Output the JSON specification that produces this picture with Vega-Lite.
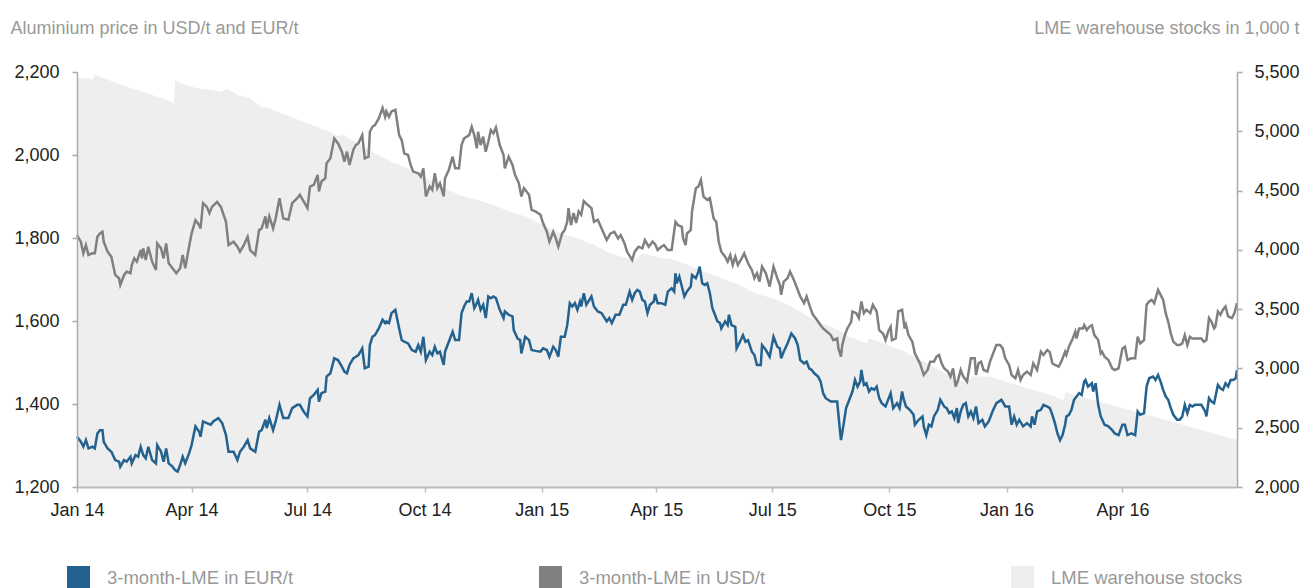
{
  "$schema": "https://vega.github.io/schema/vega-lite/v6.json",
  "width": 1160,
  "height": 415,
  "autosize": {"type": "none"},
  "padding": {"left": 77, "top": 72, "right": 66, "bottom": 101},
  "background": "white",
  "config": {"view": {"stroke": null}, "font": "Liberation Sans"},
  "datasets": {
    "usd": [
      {"date":"2014-01-01","value":1807},{"date":"2014-01-04","value":1791},{"date":"2014-01-06","value":1763},{"date":"2014-01-08","value":1783},{"date":"2014-01-10","value":1759},{"date":"2014-01-13","value":1763},{"date":"2014-01-15","value":1763},{"date":"2014-01-17","value":1803},{"date":"2014-01-19","value":1811},{"date":"2014-01-21","value":1815},{"date":"2014-01-22","value":1791},{"date":"2014-01-25","value":1767},{"date":"2014-01-28","value":1755},{"date":"2014-01-31","value":1711},
      {"date":"2014-02-03","value":1703},{"date":"2014-02-04","value":1687},{"date":"2014-02-07","value":1711},{"date":"2014-02-09","value":1719},{"date":"2014-02-12","value":1715},{"date":"2014-02-13","value":1735},{"date":"2014-02-15","value":1751},{"date":"2014-02-17","value":1743},{"date":"2014-02-20","value":1771},{"date":"2014-02-21","value":1751},{"date":"2014-02-22","value":1775},{"date":"2014-02-24","value":1747},{"date":"2014-02-26","value":1779},
      {"date":"2014-03-01","value":1743},{"date":"2014-03-04","value":1723},{"date":"2014-03-05","value":1787},{"date":"2014-03-08","value":1775},{"date":"2014-03-10","value":1751},{"date":"2014-03-12","value":1787},{"date":"2014-03-14","value":1739},{"date":"2014-03-17","value":1727},{"date":"2014-03-20","value":1715},{"date":"2014-03-23","value":1727},{"date":"2014-03-25","value":1759},{"date":"2014-03-27","value":1727},{"date":"2014-03-30","value":1779},
      {"date":"2014-04-01","value":1811},{"date":"2014-04-04","value":1843},{"date":"2014-04-07","value":1831},{"date":"2014-04-08","value":1823},{"date":"2014-04-10","value":1884},{"date":"2014-04-13","value":1875},{"date":"2014-04-15","value":1860},{"date":"2014-04-17","value":1875},{"date":"2014-04-21","value":1887},{"date":"2014-04-24","value":1875},{"date":"2014-04-28","value":1839},{"date":"2014-04-30","value":1783},
      {"date":"2014-05-04","value":1791},{"date":"2014-05-07","value":1779},{"date":"2014-05-09","value":1767},{"date":"2014-05-12","value":1783},{"date":"2014-05-15","value":1803},{"date":"2014-05-17","value":1771},{"date":"2014-05-21","value":1759},{"date":"2014-05-24","value":1819},{"date":"2014-05-26","value":1823},{"date":"2014-05-29","value":1852},{"date":"2014-05-30","value":1823},
      {"date":"2014-06-01","value":1852},{"date":"2014-06-04","value":1823},{"date":"2014-06-06","value":1847},{"date":"2014-06-09","value":1896},{"date":"2014-06-12","value":1847},{"date":"2014-06-16","value":1844},{"date":"2014-06-19","value":1884},{"date":"2014-06-23","value":1896},{"date":"2014-06-25","value":1904},{"date":"2014-06-28","value":1888},
      {"date":"2014-07-01","value":1872},{"date":"2014-07-03","value":1924},{"date":"2014-07-06","value":1928},{"date":"2014-07-09","value":1952},{"date":"2014-07-10","value":1912},{"date":"2014-07-12","value":1936},{"date":"2014-07-15","value":1944},{"date":"2014-07-16","value":1980},{"date":"2014-07-19","value":1992},{"date":"2014-07-22","value":2040},{"date":"2014-07-25","value":2028},{"date":"2014-07-28","value":2008},{"date":"2014-07-30","value":1984},
      {"date":"2014-08-01","value":2008},{"date":"2014-08-03","value":1976},{"date":"2014-08-06","value":2012},{"date":"2014-08-08","value":2024},{"date":"2014-08-10","value":2028},{"date":"2014-08-13","value":2048},{"date":"2014-08-15","value":1992},{"date":"2014-08-18","value":1996},{"date":"2014-08-19","value":2056},{"date":"2014-08-21","value":2068},{"date":"2014-08-23","value":2072},{"date":"2014-08-26","value":2088},{"date":"2014-08-29","value":2113},{"date":"2014-08-31","value":2092},
      {"date":"2014-09-01","value":2105},{"date":"2014-09-03","value":2092},{"date":"2014-09-05","value":2105},{"date":"2014-09-08","value":2109},{"date":"2014-09-11","value":2048},{"date":"2014-09-13","value":2036},{"date":"2014-09-15","value":2004},{"date":"2014-09-18","value":2000},{"date":"2014-09-20","value":1976},{"date":"2014-09-22","value":1960},{"date":"2014-09-26","value":1956},{"date":"2014-09-28","value":1948},{"date":"2014-09-30","value":1968},
      {"date":"2014-10-02","value":1900},{"date":"2014-10-05","value":1924},{"date":"2014-10-07","value":1916},{"date":"2014-10-09","value":1956},{"date":"2014-10-11","value":1920},{"date":"2014-10-13","value":1932},{"date":"2014-10-16","value":1900},{"date":"2014-10-17","value":1944},{"date":"2014-10-20","value":1964},{"date":"2014-10-23","value":1996},{"date":"2014-10-25","value":1968},{"date":"2014-10-28","value":1968},{"date":"2014-10-30","value":2024},
      {"date":"2014-11-01","value":2040},{"date":"2014-11-03","value":2044},{"date":"2014-11-05","value":2048},{"date":"2014-11-07","value":2068},{"date":"2014-11-09","value":2048},{"date":"2014-11-11","value":2016},{"date":"2014-11-12","value":2056},{"date":"2014-11-14","value":2024},{"date":"2014-11-16","value":2044},{"date":"2014-11-18","value":2008},{"date":"2014-11-20","value":2032},{"date":"2014-11-22","value":2060},{"date":"2014-11-24","value":2052},{"date":"2014-11-26","value":2066},{"date":"2014-11-29","value":2024},
      {"date":"2014-12-02","value":2000},{"date":"2014-12-03","value":1968},{"date":"2014-12-06","value":1996},{"date":"2014-12-09","value":1976},{"date":"2014-12-11","value":1952},{"date":"2014-12-14","value":1932},{"date":"2014-12-16","value":1900},{"date":"2014-12-18","value":1920},{"date":"2014-12-22","value":1904},{"date":"2014-12-24","value":1868},{"date":"2014-12-27","value":1864},{"date":"2014-12-31","value":1856},
      {"date":"2015-01-02","value":1836},{"date":"2015-01-05","value":1815},{"date":"2015-01-07","value":1791},{"date":"2015-01-10","value":1815},{"date":"2015-01-12","value":1799},{"date":"2015-01-14","value":1779},{"date":"2015-01-17","value":1811},{"date":"2015-01-19","value":1819},{"date":"2015-01-21","value":1839},{"date":"2015-01-22","value":1872},{"date":"2015-01-24","value":1831},{"date":"2015-01-26","value":1860},{"date":"2015-01-28","value":1836},{"date":"2015-01-30","value":1864},
      {"date":"2015-02-01","value":1856},{"date":"2015-02-03","value":1889},{"date":"2015-02-06","value":1880},{"date":"2015-02-09","value":1872},{"date":"2015-02-11","value":1839},{"date":"2015-02-14","value":1844},{"date":"2015-02-17","value":1823},{"date":"2015-02-21","value":1795},{"date":"2015-02-24","value":1811},{"date":"2015-02-27","value":1815},
      {"date":"2015-03-02","value":1799},{"date":"2015-03-04","value":1807},{"date":"2015-03-07","value":1787},{"date":"2015-03-09","value":1767},{"date":"2015-03-13","value":1747},{"date":"2015-03-15","value":1767},{"date":"2015-03-18","value":1779},{"date":"2015-03-21","value":1775},{"date":"2015-03-23","value":1795},{"date":"2015-03-26","value":1779},{"date":"2015-03-29","value":1791},{"date":"2015-03-31","value":1785},
      {"date":"2015-04-02","value":1771},{"date":"2015-04-05","value":1779},{"date":"2015-04-07","value":1783},{"date":"2015-04-10","value":1771},{"date":"2015-04-13","value":1771},{"date":"2015-04-16","value":1839},{"date":"2015-04-18","value":1831},{"date":"2015-04-21","value":1827},{"date":"2015-04-22","value":1799},{"date":"2015-04-24","value":1783},{"date":"2015-04-25","value":1811},{"date":"2015-04-28","value":1819},{"date":"2015-04-29","value":1864},
      {"date":"2015-05-02","value":1920},{"date":"2015-05-04","value":1924},{"date":"2015-05-06","value":1940},{"date":"2015-05-08","value":1900},{"date":"2015-05-11","value":1892},{"date":"2015-05-13","value":1896},{"date":"2015-05-16","value":1847},{"date":"2015-05-18","value":1839},{"date":"2015-05-20","value":1791},{"date":"2015-05-22","value":1767},{"date":"2015-05-25","value":1755},{"date":"2015-05-27","value":1743},{"date":"2015-05-29","value":1759},{"date":"2015-05-31","value":1735},
      {"date":"2015-06-02","value":1755},{"date":"2015-06-04","value":1735},{"date":"2015-06-07","value":1751},{"date":"2015-06-09","value":1763},{"date":"2015-06-12","value":1739},{"date":"2015-06-15","value":1723},{"date":"2015-06-17","value":1703},{"date":"2015-06-19","value":1715},{"date":"2015-06-21","value":1695},{"date":"2015-06-23","value":1731},{"date":"2015-06-26","value":1715},{"date":"2015-06-29","value":1683},
      {"date":"2015-07-02","value":1731},{"date":"2015-07-05","value":1703},{"date":"2015-07-07","value":1687},{"date":"2015-07-08","value":1663},{"date":"2015-07-10","value":1695},{"date":"2015-07-13","value":1703},{"date":"2015-07-15","value":1719},{"date":"2015-07-18","value":1699},{"date":"2015-07-20","value":1683},{"date":"2015-07-23","value":1659},{"date":"2015-07-26","value":1643},{"date":"2015-07-28","value":1659},{"date":"2015-07-31","value":1631},
      {"date":"2015-08-02","value":1615},{"date":"2015-08-05","value":1603},{"date":"2015-08-08","value":1590},{"date":"2015-08-10","value":1582},{"date":"2015-08-13","value":1574},{"date":"2015-08-16","value":1566},{"date":"2015-08-18","value":1554},{"date":"2015-08-21","value":1558},{"date":"2015-08-22","value":1534},{"date":"2015-08-24","value":1514},{"date":"2015-08-25","value":1542},{"date":"2015-08-27","value":1566},{"date":"2015-08-29","value":1582},
      {"date":"2015-09-01","value":1598},{"date":"2015-09-02","value":1623},{"date":"2015-09-05","value":1619},{"date":"2015-09-07","value":1607},{"date":"2015-09-09","value":1647},{"date":"2015-09-11","value":1619},{"date":"2015-09-13","value":1627},{"date":"2015-09-16","value":1619},{"date":"2015-09-18","value":1639},{"date":"2015-09-21","value":1623},{"date":"2015-09-23","value":1578},{"date":"2015-09-26","value":1570},{"date":"2015-09-28","value":1554},{"date":"2015-09-30","value":1574},
      {"date":"2015-10-02","value":1586},{"date":"2015-10-03","value":1554},{"date":"2015-10-06","value":1558},{"date":"2015-10-08","value":1623},{"date":"2015-10-11","value":1627},{"date":"2015-10-13","value":1582},{"date":"2015-10-14","value":1591},{"date":"2015-10-16","value":1566},{"date":"2015-10-19","value":1550},{"date":"2015-10-21","value":1522},{"date":"2015-10-23","value":1510},{"date":"2015-10-25","value":1498},{"date":"2015-10-28","value":1470},{"date":"2015-10-31","value":1482},
      {"date":"2015-11-02","value":1502},{"date":"2015-11-05","value":1502},{"date":"2015-11-07","value":1514},{"date":"2015-11-09","value":1518},{"date":"2015-11-11","value":1498},{"date":"2015-11-13","value":1486},{"date":"2015-11-16","value":1478},{"date":"2015-11-18","value":1466},{"date":"2015-11-20","value":1486},{"date":"2015-11-22","value":1442},{"date":"2015-11-24","value":1458},{"date":"2015-11-26","value":1482},{"date":"2015-11-28","value":1466},
      {"date":"2015-12-01","value":1454},{"date":"2015-12-04","value":1510},{"date":"2015-12-07","value":1510},{"date":"2015-12-08","value":1470},{"date":"2015-12-10","value":1498},{"date":"2015-12-12","value":1502},{"date":"2015-12-14","value":1482},{"date":"2015-12-17","value":1478},{"date":"2015-12-19","value":1502},{"date":"2015-12-21","value":1518},{"date":"2015-12-24","value":1542},{"date":"2015-12-27","value":1542},{"date":"2015-12-29","value":1534},{"date":"2015-12-31","value":1510},
      {"date":"2016-01-03","value":1494},{"date":"2016-01-05","value":1470},{"date":"2016-01-08","value":1462},{"date":"2016-01-10","value":1482},{"date":"2016-01-12","value":1458},{"date":"2016-01-14","value":1470},{"date":"2016-01-17","value":1478},{"date":"2016-01-20","value":1470},{"date":"2016-01-22","value":1498},{"date":"2016-01-25","value":1482},{"date":"2016-01-28","value":1526},{"date":"2016-01-30","value":1518},
      {"date":"2016-02-02","value":1530},{"date":"2016-02-04","value":1525},{"date":"2016-02-06","value":1498},{"date":"2016-02-08","value":1494},{"date":"2016-02-11","value":1490},{"date":"2016-02-13","value":1502},{"date":"2016-02-16","value":1526},{"date":"2016-02-17","value":1518},{"date":"2016-02-19","value":1538},{"date":"2016-02-22","value":1558},{"date":"2016-02-24","value":1574},{"date":"2016-02-25","value":1558},{"date":"2016-02-27","value":1582},
      {"date":"2016-03-01","value":1582},{"date":"2016-03-02","value":1590},{"date":"2016-03-04","value":1578},{"date":"2016-03-06","value":1586},{"date":"2016-03-08","value":1590},{"date":"2016-03-10","value":1566},{"date":"2016-03-13","value":1554},{"date":"2016-03-15","value":1522},{"date":"2016-03-16","value":1526},{"date":"2016-03-18","value":1514},{"date":"2016-03-21","value":1506},{"date":"2016-03-24","value":1486},{"date":"2016-03-26","value":1482},{"date":"2016-03-29","value":1486},
      {"date":"2016-04-01","value":1534},{"date":"2016-04-03","value":1538},{"date":"2016-04-05","value":1506},{"date":"2016-04-08","value":1510},{"date":"2016-04-11","value":1510},{"date":"2016-04-13","value":1562},{"date":"2016-04-15","value":1546},{"date":"2016-04-18","value":1554},{"date":"2016-04-20","value":1639},{"date":"2016-04-22","value":1647},{"date":"2016-04-24","value":1651},{"date":"2016-04-26","value":1643},{"date":"2016-04-29","value":1675},
      {"date":"2016-05-01","value":1663},{"date":"2016-05-03","value":1651},{"date":"2016-05-05","value":1619},{"date":"2016-05-07","value":1598},{"date":"2016-05-09","value":1570},{"date":"2016-05-11","value":1550},{"date":"2016-05-14","value":1542},{"date":"2016-05-16","value":1542},{"date":"2016-05-18","value":1546},{"date":"2016-05-20","value":1566},{"date":"2016-05-22","value":1542},{"date":"2016-05-24","value":1562},{"date":"2016-05-26","value":1558},{"date":"2016-05-28","value":1558},{"date":"2016-05-31","value":1558},
      {"date":"2016-06-02","value":1558},{"date":"2016-06-04","value":1550},{"date":"2016-06-06","value":1554},{"date":"2016-06-08","value":1607},{"date":"2016-06-10","value":1598},{"date":"2016-06-12","value":1582},{"date":"2016-06-13","value":1586},{"date":"2016-06-15","value":1623},{"date":"2016-06-17","value":1615},{"date":"2016-06-19","value":1627},{"date":"2016-06-21","value":1635},{"date":"2016-06-23","value":1611},{"date":"2016-06-26","value":1607},{"date":"2016-06-28","value":1619},{"date":"2016-06-30","value":1643}
    ],
    "eur": [
      {"date":"2014-01-01","value":1321},{"date":"2014-01-04","value":1309},{"date":"2014-01-06","value":1297},{"date":"2014-01-08","value":1313},{"date":"2014-01-10","value":1293},{"date":"2014-01-13","value":1297},{"date":"2014-01-15","value":1293},{"date":"2014-01-17","value":1329},{"date":"2014-01-19","value":1337},{"date":"2014-01-21","value":1337},{"date":"2014-01-22","value":1309},{"date":"2014-01-25","value":1293},{"date":"2014-01-28","value":1285},{"date":"2014-01-31","value":1265},
      {"date":"2014-02-03","value":1261},{"date":"2014-02-04","value":1249},{"date":"2014-02-07","value":1265},{"date":"2014-02-09","value":1261},{"date":"2014-02-12","value":1273},{"date":"2014-02-13","value":1257},{"date":"2014-02-16","value":1277},{"date":"2014-02-18","value":1273},{"date":"2014-02-20","value":1297},{"date":"2014-02-22","value":1277},{"date":"2014-02-24","value":1269},{"date":"2014-02-26","value":1297},
      {"date":"2014-03-01","value":1265},{"date":"2014-03-04","value":1257},{"date":"2014-03-05","value":1301},{"date":"2014-03-08","value":1285},{"date":"2014-03-10","value":1261},{"date":"2014-03-12","value":1293},{"date":"2014-03-14","value":1257},{"date":"2014-03-17","value":1249},{"date":"2014-03-19","value":1241},{"date":"2014-03-21","value":1237},{"date":"2014-03-23","value":1253},{"date":"2014-03-25","value":1273},{"date":"2014-03-27","value":1257},{"date":"2014-03-30","value":1281},
      {"date":"2014-04-01","value":1301},{"date":"2014-04-04","value":1346},{"date":"2014-04-07","value":1333},{"date":"2014-04-08","value":1321},{"date":"2014-04-10","value":1358},{"date":"2014-04-13","value":1354},{"date":"2014-04-16","value":1350},{"date":"2014-04-18","value":1358},{"date":"2014-04-22","value":1366},{"date":"2014-04-25","value":1354},{"date":"2014-04-28","value":1325},{"date":"2014-04-30","value":1285},
      {"date":"2014-05-04","value":1285},{"date":"2014-05-07","value":1265},{"date":"2014-05-09","value":1285},{"date":"2014-05-12","value":1297},{"date":"2014-05-15","value":1313},{"date":"2014-05-17","value":1293},{"date":"2014-05-21","value":1285},{"date":"2014-05-24","value":1333},{"date":"2014-05-26","value":1337},{"date":"2014-05-29","value":1362},{"date":"2014-05-30","value":1342},
      {"date":"2014-06-01","value":1366},{"date":"2014-06-04","value":1337},{"date":"2014-06-06","value":1358},{"date":"2014-06-09","value":1398},{"date":"2014-06-12","value":1366},{"date":"2014-06-16","value":1366},{"date":"2014-06-19","value":1390},{"date":"2014-06-23","value":1398},{"date":"2014-06-25","value":1398},{"date":"2014-06-28","value":1382},
      {"date":"2014-07-01","value":1370},{"date":"2014-07-03","value":1414},{"date":"2014-07-06","value":1422},{"date":"2014-07-09","value":1434},{"date":"2014-07-10","value":1406},{"date":"2014-07-12","value":1426},{"date":"2014-07-15","value":1430},{"date":"2014-07-16","value":1466},{"date":"2014-07-19","value":1474},{"date":"2014-07-22","value":1510},{"date":"2014-07-25","value":1506},{"date":"2014-07-28","value":1490},{"date":"2014-07-30","value":1478},
      {"date":"2014-08-01","value":1474},{"date":"2014-08-03","value":1494},{"date":"2014-08-06","value":1510},{"date":"2014-08-08","value":1514},{"date":"2014-08-10","value":1518},{"date":"2014-08-13","value":1534},{"date":"2014-08-15","value":1486},{"date":"2014-08-18","value":1490},{"date":"2014-08-19","value":1542},{"date":"2014-08-21","value":1562},{"date":"2014-08-23","value":1566},{"date":"2014-08-26","value":1582},{"date":"2014-08-29","value":1603},{"date":"2014-08-31","value":1595},
      {"date":"2014-09-01","value":1599},{"date":"2014-09-03","value":1595},{"date":"2014-09-05","value":1619},{"date":"2014-09-08","value":1627},{"date":"2014-09-11","value":1582},{"date":"2014-09-13","value":1554},{"date":"2014-09-15","value":1550},{"date":"2014-09-18","value":1546},{"date":"2014-09-21","value":1530},{"date":"2014-09-24","value":1526},{"date":"2014-09-26","value":1542},{"date":"2014-09-28","value":1526},{"date":"2014-09-30","value":1562},
      {"date":"2014-10-02","value":1506},{"date":"2014-10-05","value":1526},{"date":"2014-10-07","value":1518},{"date":"2014-10-09","value":1538},{"date":"2014-10-11","value":1522},{"date":"2014-10-13","value":1526},{"date":"2014-10-16","value":1494},{"date":"2014-10-17","value":1526},{"date":"2014-10-20","value":1550},{"date":"2014-10-23","value":1574},{"date":"2014-10-25","value":1554},{"date":"2014-10-28","value":1554},{"date":"2014-10-30","value":1619},
      {"date":"2014-11-01","value":1635},{"date":"2014-11-03","value":1647},{"date":"2014-11-05","value":1647},{"date":"2014-11-07","value":1667},{"date":"2014-11-09","value":1631},{"date":"2014-11-11","value":1643},{"date":"2014-11-12","value":1651},{"date":"2014-11-14","value":1627},{"date":"2014-11-16","value":1639},{"date":"2014-11-18","value":1607},{"date":"2014-11-20","value":1659},{"date":"2014-11-22","value":1655},{"date":"2014-11-24","value":1659},{"date":"2014-11-26","value":1655},{"date":"2014-11-29","value":1627},
      {"date":"2014-12-02","value":1607},{"date":"2014-12-03","value":1623},{"date":"2014-12-06","value":1615},{"date":"2014-12-09","value":1611},{"date":"2014-12-10","value":1578},{"date":"2014-12-13","value":1558},{"date":"2014-12-15","value":1554},{"date":"2014-12-16","value":1522},{"date":"2014-12-19","value":1562},{"date":"2014-12-22","value":1554},{"date":"2014-12-24","value":1530},{"date":"2014-12-27","value":1528},{"date":"2014-12-31","value":1526},
      {"date":"2015-01-02","value":1534},{"date":"2015-01-05","value":1530},{"date":"2015-01-07","value":1514},{"date":"2015-01-10","value":1538},{"date":"2015-01-12","value":1530},{"date":"2015-01-14","value":1514},{"date":"2015-01-16","value":1562},{"date":"2015-01-19","value":1562},{"date":"2015-01-21","value":1590},{"date":"2015-01-23","value":1643},{"date":"2015-01-25","value":1635},{"date":"2015-01-27","value":1643},{"date":"2015-01-29","value":1627},{"date":"2015-01-31","value":1647},
      {"date":"2015-02-01","value":1635},{"date":"2015-02-03","value":1667},{"date":"2015-02-05","value":1639},{"date":"2015-02-09","value":1659},{"date":"2015-02-11","value":1635},{"date":"2015-02-14","value":1623},{"date":"2015-02-17","value":1619},{"date":"2015-02-21","value":1599},{"date":"2015-02-23","value":1607},{"date":"2015-02-25","value":1595},{"date":"2015-02-28","value":1615},
      {"date":"2015-03-03","value":1615},{"date":"2015-03-06","value":1639},{"date":"2015-03-08","value":1639},{"date":"2015-03-11","value":1671},{"date":"2015-03-13","value":1651},{"date":"2015-03-15","value":1667},{"date":"2015-03-17","value":1675},{"date":"2015-03-19","value":1671},{"date":"2015-03-21","value":1651},{"date":"2015-03-23","value":1647},{"date":"2015-03-25","value":1619},{"date":"2015-03-27","value":1639},{"date":"2015-03-30","value":1647},{"date":"2015-03-31","value":1665},
      {"date":"2015-04-02","value":1643},{"date":"2015-04-05","value":1643},{"date":"2015-04-08","value":1639},{"date":"2015-04-10","value":1671},{"date":"2015-04-13","value":1679},{"date":"2015-04-15","value":1671},{"date":"2015-04-16","value":1715},{"date":"2015-04-17","value":1691},{"date":"2015-04-19","value":1707},{"date":"2015-04-21","value":1683},{"date":"2015-04-23","value":1659},{"date":"2015-04-25","value":1671},{"date":"2015-04-28","value":1683},{"date":"2015-04-29","value":1711},
      {"date":"2015-05-02","value":1703},{"date":"2015-05-04","value":1719},{"date":"2015-05-05","value":1731},{"date":"2015-05-07","value":1691},{"date":"2015-05-09","value":1687},{"date":"2015-05-11","value":1691},{"date":"2015-05-13","value":1667},{"date":"2015-05-15","value":1631},{"date":"2015-05-17","value":1615},{"date":"2015-05-19","value":1599},{"date":"2015-05-21","value":1595},{"date":"2015-05-22","value":1582},{"date":"2015-05-25","value":1599},{"date":"2015-05-27","value":1590},{"date":"2015-05-28","value":1615},{"date":"2015-05-30","value":1590},
      {"date":"2015-06-02","value":1586},{"date":"2015-06-03","value":1534},{"date":"2015-06-05","value":1546},{"date":"2015-06-08","value":1566},{"date":"2015-06-10","value":1550},{"date":"2015-06-12","value":1554},{"date":"2015-06-15","value":1526},{"date":"2015-06-17","value":1518},{"date":"2015-06-19","value":1494},{"date":"2015-06-22","value":1494},{"date":"2015-06-23","value":1542},{"date":"2015-06-26","value":1530},{"date":"2015-06-29","value":1514},
      {"date":"2015-07-02","value":1562},{"date":"2015-07-05","value":1538},{"date":"2015-07-07","value":1534},{"date":"2015-07-08","value":1510},{"date":"2015-07-10","value":1526},{"date":"2015-07-13","value":1546},{"date":"2015-07-16","value":1570},{"date":"2015-07-19","value":1558},{"date":"2015-07-21","value":1542},{"date":"2015-07-23","value":1506},{"date":"2015-07-26","value":1498},{"date":"2015-07-28","value":1502},{"date":"2015-07-30","value":1486},
      {"date":"2015-08-01","value":1482},{"date":"2015-08-03","value":1474},{"date":"2015-08-06","value":1466},{"date":"2015-08-08","value":1454},{"date":"2015-08-10","value":1426},{"date":"2015-08-12","value":1414},{"date":"2015-08-16","value":1406},{"date":"2015-08-19","value":1406},{"date":"2015-08-21","value":1406},{"date":"2015-08-23","value":1342},{"date":"2015-08-24","value":1313},{"date":"2015-08-26","value":1350},{"date":"2015-08-28","value":1390},{"date":"2015-08-30","value":1406},
      {"date":"2015-09-02","value":1430},{"date":"2015-09-04","value":1458},{"date":"2015-09-06","value":1442},{"date":"2015-09-08","value":1454},{"date":"2015-09-09","value":1482},{"date":"2015-09-11","value":1446},{"date":"2015-09-13","value":1450},{"date":"2015-09-15","value":1430},{"date":"2015-09-17","value":1438},{"date":"2015-09-19","value":1434},{"date":"2015-09-21","value":1442},{"date":"2015-09-23","value":1414},{"date":"2015-09-25","value":1402},{"date":"2015-09-28","value":1394},{"date":"2015-09-30","value":1410},
      {"date":"2015-10-02","value":1426},{"date":"2015-10-04","value":1390},{"date":"2015-10-07","value":1402},{"date":"2015-10-09","value":1390},{"date":"2015-10-11","value":1430},{"date":"2015-10-12","value":1414},{"date":"2015-10-14","value":1394},{"date":"2015-10-17","value":1386},{"date":"2015-10-20","value":1374},{"date":"2015-10-21","value":1350},{"date":"2015-10-24","value":1362},{"date":"2015-10-27","value":1370},{"date":"2015-10-28","value":1346},{"date":"2015-10-30","value":1325},
      {"date":"2015-11-01","value":1350},{"date":"2015-11-03","value":1346},{"date":"2015-11-05","value":1370},{"date":"2015-11-08","value":1386},{"date":"2015-11-10","value":1410},{"date":"2015-11-13","value":1394},{"date":"2015-11-15","value":1390},{"date":"2015-11-17","value":1378},{"date":"2015-11-19","value":1382},{"date":"2015-11-21","value":1366},{"date":"2015-11-23","value":1390},{"date":"2015-11-24","value":1354},{"date":"2015-11-26","value":1382},{"date":"2015-11-28","value":1398},{"date":"2015-11-30","value":1402},
      {"date":"2015-12-02","value":1370},{"date":"2015-12-04","value":1382},{"date":"2015-12-06","value":1366},{"date":"2015-12-08","value":1394},{"date":"2015-12-10","value":1354},{"date":"2015-12-13","value":1362},{"date":"2015-12-15","value":1346},{"date":"2015-12-18","value":1358},{"date":"2015-12-21","value":1382},{"date":"2015-12-24","value":1402},{"date":"2015-12-28","value":1410},{"date":"2015-12-31","value":1394},
      {"date":"2016-01-03","value":1394},{"date":"2016-01-05","value":1350},{"date":"2016-01-07","value":1370},{"date":"2016-01-09","value":1350},{"date":"2016-01-11","value":1362},{"date":"2016-01-14","value":1346},{"date":"2016-01-17","value":1354},{"date":"2016-01-20","value":1346},{"date":"2016-01-21","value":1370},{"date":"2016-01-23","value":1350},{"date":"2016-01-25","value":1382},{"date":"2016-01-28","value":1386},{"date":"2016-01-30","value":1398},
      {"date":"2016-02-02","value":1394},{"date":"2016-02-04","value":1390},{"date":"2016-02-06","value":1374},{"date":"2016-02-08","value":1354},{"date":"2016-02-10","value":1329},{"date":"2016-02-12","value":1313},{"date":"2016-02-14","value":1325},{"date":"2016-02-16","value":1350},{"date":"2016-02-17","value":1370},{"date":"2016-02-19","value":1374},{"date":"2016-02-21","value":1386},{"date":"2016-02-23","value":1410},{"date":"2016-02-25","value":1418},{"date":"2016-02-27","value":1426},{"date":"2016-02-29","value":1422},
      {"date":"2016-03-02","value":1454},{"date":"2016-03-03","value":1458},{"date":"2016-03-05","value":1442},{"date":"2016-03-08","value":1450},{"date":"2016-03-09","value":1430},{"date":"2016-03-11","value":1450},{"date":"2016-03-13","value":1398},{"date":"2016-03-15","value":1370},{"date":"2016-03-18","value":1350},{"date":"2016-03-21","value":1346},{"date":"2016-03-24","value":1337},{"date":"2016-03-26","value":1329},{"date":"2016-03-29","value":1325},
      {"date":"2016-04-01","value":1350},{"date":"2016-04-03","value":1350},{"date":"2016-04-05","value":1325},{"date":"2016-04-08","value":1329},{"date":"2016-04-11","value":1325},{"date":"2016-04-13","value":1382},{"date":"2016-04-15","value":1374},{"date":"2016-04-18","value":1378},{"date":"2016-04-20","value":1442},{"date":"2016-04-22","value":1462},{"date":"2016-04-25","value":1466},{"date":"2016-04-27","value":1458},{"date":"2016-04-29","value":1470},
      {"date":"2016-05-01","value":1454},{"date":"2016-05-03","value":1434},{"date":"2016-05-05","value":1418},{"date":"2016-05-07","value":1410},{"date":"2016-05-09","value":1390},{"date":"2016-05-11","value":1374},{"date":"2016-05-14","value":1362},{"date":"2016-05-16","value":1362},{"date":"2016-05-18","value":1370},{"date":"2016-05-20","value":1398},{"date":"2016-05-22","value":1378},{"date":"2016-05-24","value":1398},{"date":"2016-05-26","value":1394},{"date":"2016-05-28","value":1398},{"date":"2016-05-31","value":1398},
      {"date":"2016-06-02","value":1398},{"date":"2016-06-05","value":1382},{"date":"2016-06-06","value":1370},{"date":"2016-06-08","value":1414},{"date":"2016-06-10","value":1406},{"date":"2016-06-12","value":1402},{"date":"2016-06-15","value":1446},{"date":"2016-06-17","value":1438},{"date":"2016-06-19","value":1434},{"date":"2016-06-21","value":1450},{"date":"2016-06-23","value":1442},{"date":"2016-06-25","value":1458},{"date":"2016-06-27","value":1458},{"date":"2016-06-29","value":1462},{"date":"2016-06-30","value":1482}
    ],
    "stocks": [
      {"date":"2014-01-01","value":5452},{"date":"2014-01-11","value":5440},{"date":"2014-01-13","value":5433},{"date":"2014-01-15","value":5480},{"date":"2014-01-22","value":5447},{"date":"2014-02-04","value":5396},{"date":"2014-02-12","value":5362},{"date":"2014-02-22","value":5334},{"date":"2014-03-05","value":5292},{"date":"2014-03-13","value":5264},{"date":"2014-03-18","value":5236},{"date":"2014-03-19","value":5433},{"date":"2014-03-26","value":5396},{"date":"2014-04-05","value":5362},{"date":"2014-04-16","value":5348},{"date":"2014-04-24","value":5334},{"date":"2014-04-29","value":5357},{"date":"2014-05-07","value":5306},{"date":"2014-05-17","value":5278},{"date":"2014-05-25","value":5208},{"date":"2014-05-31","value":5196},
      {"date":"2014-06-14","value":5137},{"date":"2014-07-01","value":5067},{"date":"2014-07-15","value":5011},{"date":"2014-07-26","value":4955},{"date":"2014-07-28","value":4974},{"date":"2014-08-10","value":4898},{"date":"2014-08-23","value":4814},{"date":"2014-09-05","value":4744},{"date":"2014-09-18","value":4688},{"date":"2014-10-02","value":4603},{"date":"2014-10-15","value":4533},{"date":"2014-10-28","value":4463},{"date":"2014-11-06","value":4435},{"date":"2014-11-14","value":4412},{"date":"2014-11-24","value":4378},{"date":"2014-12-07","value":4322},{"date":"2014-12-20","value":4280},
      {"date":"2015-01-02","value":4210},{"date":"2015-01-16","value":4139},{"date":"2015-01-29","value":4097},{"date":"2015-02-11","value":4041},{"date":"2015-02-24","value":3971},{"date":"2015-03-09","value":3929},{"date":"2015-03-14","value":3914},{"date":"2015-03-22","value":3971},{"date":"2015-04-04","value":3934},{"date":"2015-04-13","value":3923},{"date":"2015-04-26","value":3872},{"date":"2015-05-09","value":3816},{"date":"2015-05-22","value":3760},{"date":"2015-06-05","value":3704},{"date":"2015-06-18","value":3633},{"date":"2015-07-01","value":3591},{"date":"2015-07-14","value":3535},{"date":"2015-07-27","value":3451},{"date":"2015-08-09","value":3380},{"date":"2015-08-22","value":3324},{"date":"2015-08-31","value":3265},
      {"date":"2015-09-13","value":3212},{"date":"2015-09-15","value":3254},{"date":"2015-09-26","value":3212},{"date":"2015-10-10","value":3156},{"date":"2015-10-23","value":3085},{"date":"2015-11-05","value":3015},{"date":"2015-11-18","value":2931},{"date":"2015-12-01","value":2874},{"date":"2015-12-05","value":2931},{"date":"2015-12-19","value":2931},{"date":"2015-12-27","value":2903},
      {"date":"2016-01-09","value":2860},{"date":"2016-01-22","value":2818},{"date":"2016-02-04","value":2780},{"date":"2016-02-11","value":2748},{"date":"2016-02-15","value":2734},{"date":"2016-02-16","value":2800},{"date":"2016-03-11","value":2728},{"date":"2016-04-10","value":2638},{"date":"2016-05-10","value":2550},{"date":"2016-06-09","value":2460},{"date":"2016-06-30","value":2396}
    ]
  },
  "layer": [
    {
      "data": {"name": "stocks"},
      "mark": {"type": "area", "opacity": 1, "interpolate": "linear"},
      "encoding": {
        "x": {
          "field": "date", "type": "temporal",
          "scale": {"type": "utc", "domain": [{"year": 2014, "month": 1, "date": 1, "utc": true}, {"year": 2016, "month": 6, "date": 30, "utc": true}]},
          "axis": {"title": null, "format": "%b %y", "tickCount": {"interval": "month", "step": 3}, "labelFontSize": 18, "labelColor": "#222222", "labelPadding": 9, "tickSize": 5, "tickWidth": 1.5, "tickColor": "#bbbbbb", "domainColor": "#bbbbbb", "domainWidth": 2, "grid": false, "labelFlush": false, "labelOverlap": false, "zindex": 1}
        },
        "y": {
          "field": "value", "type": "quantitative",
          "scale": {"domain": [2000, 5500], "zero": false, "nice": false},
          "axis": {"orient": "right", "values": [2000, 2500, 3000, 3500, 4000, 4500, 5000, 5500], "format": ",d", "labelFontSize": 18, "labelColor": "#222222", "labelPadding": 12, "tickSize": 5, "tickWidth": 1.5, "tickColor": "#aaaaaa", "domainColor": "#aaaaaa", "domainWidth": 1.5, "grid": false, "labelFlush": false, "title": "LME warehouse stocks in 1,000 t", "titleAngle": 0, "titleX": 62, "titleY": -39, "titleAlign": "right", "titleBaseline": "alphabetic", "titleFontSize": 18, "titleFontWeight": "normal", "titleColor": "#999999", "zindex": 1}
        },
        "y2": {"datum": 2000},
        "color": {
          "datum": "LME warehouse stocks",
          "scale": {"domain": ["3-month-LME in EUR/t", "3-month-LME in USD/t", "LME warehouse stocks"], "range": ["#23628e", "#808080", "#eeeeee"]},
          "legend": {"orient": "none", "legendX": -10, "legendY": 494, "direction": "horizontal", "columns": 3, "title": null, "symbolType": "square", "symbolSize": 529, "symbolStrokeWidth": 0, "symbolOpacity": 1, "labelFontSize": 18.5, "labelColor": "#999999", "labelOffset": 17, "columnPadding": 245, "padding": 0, "labelLimit": 400,
            "encode": {"symbols": {"update": {"fill": {"scale": "color", "field": "value"}, "stroke": {"value": "transparent"}, "opacity": {"value": 1}}}}}
        }
      }
    },
    {
      "layer": [
        {
          "data": {"name": "usd"},
          "mark": {"type": "line", "strokeWidth": 2.5, "interpolate": "linear"},
          "encoding": {
            "x": {"field": "date", "type": "temporal", "title": null},
            "y": {
              "field": "value", "type": "quantitative",
              "scale": {"domain": [1200, 2200], "zero": false, "nice": false},
              "axis": {"values": [1200, 1400, 1600, 1800, 2000, 2200], "format": ",d", "labelFontSize": 18, "labelColor": "#222222", "labelPadding": 13, "tickSize": 5, "tickWidth": 1.5, "tickColor": "#aaaaaa", "domainColor": "#aaaaaa", "domainWidth": 1.5, "grid": false, "labelFlush": false, "title": "Aluminium price in USD/t and EUR/t", "titleAngle": 0, "titleX": -67, "titleY": -39, "titleAlign": "left", "titleBaseline": "alphabetic", "titleFontSize": 18, "titleFontWeight": "normal", "titleColor": "#999999", "zindex": 1}
            },
            "color": {"datum": "3-month-LME in USD/t"}
          }
        },
        {
          "data": {"name": "eur"},
          "mark": {"type": "line", "strokeWidth": 2.5, "interpolate": "linear"},
          "encoding": {
            "x": {"field": "date", "type": "temporal", "title": null},
            "y": {"field": "value", "type": "quantitative", "title": "Aluminium price in USD/t and EUR/t"},
            "color": {"datum": "3-month-LME in EUR/t"}
          }
        }
      ]
    }
  ],
  "resolve": {"scale": {"y": "independent"}}
}
